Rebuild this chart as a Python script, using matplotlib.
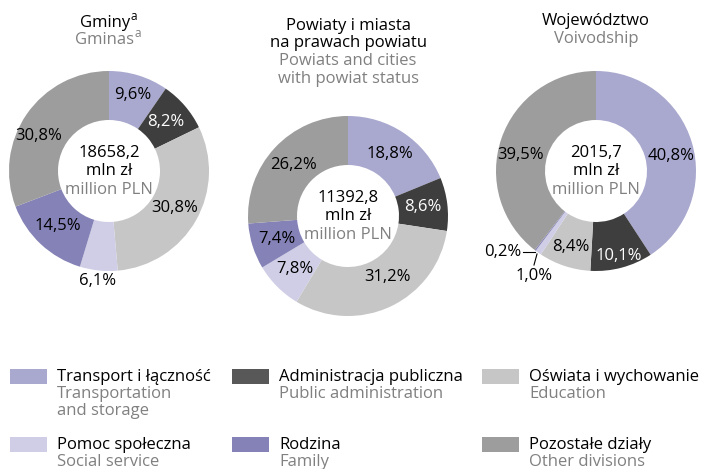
import numpy as np
import matplotlib
matplotlib.use('Agg')
import matplotlib.pyplot as plt
from matplotlib.patches import Rectangle

plt.rcParams['font.family'] = ['Open Sans', 'DejaVu Sans']

# Kategorie (kolejność zgodnie z ruchem wskazówek zegara od góry)
kategorie_pl = ['Transport i łączność', 'Administracja publiczna', 'Oświata i wychowanie',
                'Pomoc społeczna', 'Rodzina', 'Pozostałe działy']
kategorie_en = ['Transportation\nand storage', 'Public administration', 'Education',
                'Social service', 'Family', 'Other divisions']

# Struktura wydatków (%)
gminy = [9.6, 8.2, 30.8, 6.1, 14.5, 30.8]
powiaty = [18.8, 8.6, 31.2, 7.8, 7.4, 26.2]
wojewodztwo = [40.8, 10.1, 8.4, 1.0, 0.2, 39.5]

# Wydatki ogółem (mln zł)
sumy = ['18658,2', '11392,8', '2015,7']

tytuly_pl = ['Gminy', 'Powiaty i miasta\nna prawach powiatu', 'Województwo']
tytuly_en = ['Gminas', 'Powiats and cities\nwith powiat status', 'Voivodship']

kolory = ['#a9a8cf', '#3e3e3e', '#c6c6c6', '#cfcee6', '#8482b6', '#9d9d9d']
kolory_leg = ['#a9a8cf', '#585858', '#c6c6c6', '#cfcee6', '#8482b6', '#9d9d9d']
szary = '#808080'

W, H = 702, 469
fig = plt.figure(figsize=(W / 100, H / 100), dpi=100)
ax = fig.add_axes([0, 0, 1, 1])

# środki pierścieni w pikselach (y od góry)
srodki = [(109, 171), (348, 216), (596, 171)]
R = 100
szer = 0.49 * R

# promień etykiet (ułamek R) dla każdego wycinka; None = etykieta z odnośnikiem
prom = [
    [0.8, 0.75, 0.75, 1.11, 0.75, 0.85],
    [0.75, 0.75, 0.72, 0.75, 0.75, 0.75],
    [0.78, 0.88, 0.8, None, None, 0.75],
]
# drobne przesunięcia etykiet (px, y w dół)
przes = {(0, 5): (0, 13), (1, 2): (9, -4), (2, 0): (0, 7), (2, 5): (-4, 8)}
biale = [1]  # Administracja - biały tekst


def proc(v):
    return f'{v:.1f}%'.replace('.', ',')


dane = [gminy, powiaty, wojewodztwo]
for k, (wart, (cx, cy)) in enumerate(zip(dane, srodki)):
    cyd = H - cy
    ax.pie(wart, colors=kolory, startangle=90, counterclock=False,
           center=(cx, cyd), radius=R, wedgeprops=dict(width=szer, linewidth=0))
    kat0 = 90.0
    for i, v in enumerate(wart):
        kat = np.deg2rad(kat0 - v * 3.6 / 2)
        kat0 -= v * 3.6
        r = prom[k][i]
        if r is None:
            continue
        dx, dy = przes.get((k, i), (0, 0))
        kolor = 'white' if i in biale else 'black'
        ax.text(cx + r * R * np.cos(kat) + dx, cyd + r * R * np.sin(kat) - dy, proc(v),
                ha='center', va='center', fontsize=12, color=kolor)
    # środek pierścienia
    ax.text(cx, cyd + 18, sumy[k], ha='center', va='center', fontsize=12)
    ax.text(cx, cyd, 'mln zł', ha='center', va='center', fontsize=12)
    ax.text(cx, cyd - 19, 'million PLN', ha='center', va='center', fontsize=12, color=szary)

# małe wycinki województwa z odnośnikami
ax.plot([523, 535], [H - 252, H - 252], color='black', lw=0.8)
ax.text(521, H - 252, proc(wojewodztwo[4]), ha='right', va='center', fontsize=12)
ax.plot([534, 537], [H - 265, H - 254], color='black', lw=0.8)
ax.text(534, H - 276, proc(wojewodztwo[3]), ha='center', va='center', fontsize=12)

# tytuły; przypis "a" jako osobny, mniejszy tekst
for tekst, yb, kol in [(tytuly_pl[0], 27, 'black'), (tytuly_en[0], 44, szary)]:
    t = ax.text(105, H - yb, tekst, ha='center', va='baseline', fontsize=12, color=kol)
    ax.annotate('a', xy=(1, 1), xycoords=t, xytext=(0, 5), textcoords='offset pixels',
                ha='left', va='top', fontsize=8.5, color=kol)
ax.text(348, H - 34.5, tytuly_pl[1], ha='center', va='center', fontsize=12, linespacing=1.1)
ax.text(348, H - 70, tytuly_en[1], ha='center', va='center', fontsize=12, color=szary, linespacing=1.1)
ax.text(596, H - 21, tytuly_pl[2], ha='center', va='center', fontsize=12)
ax.text(596, H - 39, tytuly_en[2], ha='center', va='center', fontsize=12, color=szary)

# legenda
kol_x = [10, 232, 482]
wiersz_y = [369, 437]
for i in range(6):
    x = kol_x[i % 3]
    y = wiersz_y[i // 3]
    ax.add_patch(Rectangle((x, H - y - 15), 37, 15, color=kolory_leg[i], lw=0))
    ax.text(x + 47, H - y - 8, kategorie_pl[i], ha='left', va='center', fontsize=12)
    ax.text(x + 47, H - y - 17, kategorie_en[i], ha='left', va='top', fontsize=12,
            color=szary, linespacing=1.1)

ax.set_xlim(0, W)
ax.set_ylim(0, H)
ax.set_aspect('equal')
ax.axis('off')

plt.savefig('out.png', dpi=100)
